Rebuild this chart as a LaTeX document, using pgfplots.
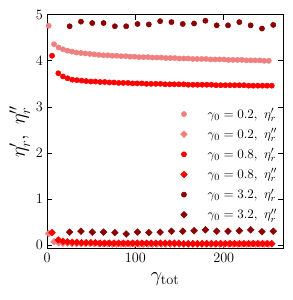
\documentclass[border=0pt]{standalone}
\usepackage{pgfplots}
\pgfplotsset{compat=1.18}
\definecolor{cpink}{RGB}{240,128,128}
\definecolor{cred}{RGB}{255,0,0}
\definecolor{cdark}{RGB}{139,0,0}
\begin{document}
\begin{tikzpicture}
\begin{axis}[
  width=198.3pt, height=196.6pt, scale only axis,
  xmin=0, xmax=267, ymin=-0.08, ymax=5,
  xtick={0,100,200}, ytick={0,1,2,3,4,5},
  tick align=inside, major tick length=4pt,
  tick style={black, line width=0.6pt},
  axis line style={line width=0.8pt},
  tick label style={font=\fontsize{11.5}{13}\selectfont},
  xlabel={$\gamma_{\mathrm{tot}}$}, ylabel={$\eta'_r,\ \eta''_r$},
  label style={font=\fontsize{18.5}{22}\selectfont},
  ylabel style={yshift=-2pt},
  xlabel style={yshift=-2pt},
  legend style={draw=none, fill=none, at={(0.55,0.622)}, anchor=north west, font=\fontsize{11}{13}\selectfont, row sep=3pt, column sep=15pt},
  legend cell align=left,
]
% gamma0 = 0.2, eta'
\addplot[only marks, mark=*, mark size=2.2pt, color=cpink] coordinates {
(1.9,4.76) (8.0,4.36) (13.1,4.29) (18.1,4.25) (23.2,4.22) (28.2,4.20) (33.3,4.18) (38.4,4.17) (43.4,4.16) (48.5,4.15)
(53.5,4.14) (58.6,4.13) (63.7,4.12) (68.7,4.12) (73.8,4.11) (78.8,4.11) (83.9,4.10) (89.0,4.10) (94.0,4.09) (99.1,4.09)
(104.1,4.08) (109.2,4.08) (114.3,4.08) (119.3,4.07) (124.4,4.07) (129.4,4.07) (134.5,4.06) (139.6,4.06) (144.6,4.06) (149.7,4.05)
(154.7,4.05) (159.8,4.05) (164.9,4.04) (169.9,4.04) (175.0,4.04) (180.0,4.04) (185.1,4.03) (190.2,4.03) (195.2,4.03) (200.3,4.03)
(205.3,4.02) (210.4,4.02) (215.5,4.02) (220.5,4.02) (225.6,4.01) (230.6,4.01) (235.7,4.01) (240.8,4.01) (245.8,4.00) (250.9,4.00)
};
\addlegendentry{$\gamma_0 = 0.2,\ \eta'_r$}
% gamma0 = 0.2, eta''
\addplot[only marks, mark=square*, mark options={rotate=45}, mark size=2pt, color=cpink] coordinates {
(1.9,0.25) (8.0,0.07) (13.1,0.05) (18.1,0.04) (23.2,0.04) (28.2,0.03) (33.3,0.03) (38.4,0.03) (43.4,0.03) (48.5,0.03)
(53.5,0.03) (58.6,0.03) (63.7,0.03) (68.7,0.03) (73.8,0.02) (78.8,0.02) (83.9,0.02) (89.0,0.02) (94.0,0.02) (99.1,0.02)
(104.1,0.02) (109.2,0.02) (114.3,0.02) (119.3,0.02) (124.4,0.02) (129.4,0.02) (134.5,0.02) (139.6,0.02) (144.6,0.02) (149.7,0.02)
(154.7,0.02) (159.8,0.02) (164.9,0.02) (169.9,0.02) (175.0,0.02) (180.0,0.02) (185.1,0.02) (190.2,0.02) (195.2,0.02) (200.3,0.02)
(205.3,0.02) (210.4,0.02) (215.5,0.02) (220.5,0.02) (225.6,0.02) (230.6,0.02) (235.7,0.02) (240.8,0.02) (245.8,0.02) (250.9,0.02)
};
\addlegendentry{$\gamma_0 = 0.2,\ \eta''_r$}
% gamma0 = 0.8, eta'
\addplot[only marks, mark=*, mark size=2.2pt, color=cred] coordinates {
(5.7,4.11) (12.8,3.73) (18.1,3.66) (23.3,3.62) (28.6,3.59) (33.8,3.58) (39.1,3.57) (44.3,3.56) (49.6,3.55) (54.8,3.55)
(60.1,3.54) (65.3,3.54) (70.6,3.53) (75.8,3.53) (81.1,3.52) (86.3,3.52) (91.6,3.52) (96.8,3.51) (102.1,3.51) (107.3,3.51)
(112.6,3.50) (117.8,3.50) (123.1,3.50) (128.3,3.50) (133.6,3.49) (138.8,3.49) (144.1,3.49) (149.3,3.49) (154.6,3.49) (159.8,3.48)
(165.1,3.48) (170.3,3.48) (175.6,3.48) (180.8,3.48) (186.1,3.48) (191.3,3.47) (196.6,3.47) (201.8,3.47) (207.1,3.47) (212.3,3.47)
(217.6,3.47) (222.8,3.47) (228.1,3.46) (233.3,3.46) (238.6,3.46) (243.8,3.46) (249.1,3.46) (254.3,3.46)
};
\addlegendentry{$\gamma_0 = 0.8,\ \eta'_r$}
% gamma0 = 0.8, eta''
\addplot[only marks, mark=square*, mark options={rotate=45}, mark size=2pt, color=cred] coordinates {
(5.7,0.27) (12.8,0.11) (18.1,0.08) (23.3,0.07) (28.6,0.06) (33.8,0.06) (39.1,0.05) (44.3,0.05) (49.6,0.05) (54.8,0.05)
(60.1,0.04) (65.3,0.04) (70.6,0.04) (75.8,0.04) (81.1,0.04) (86.3,0.04) (91.6,0.04) (96.8,0.04) (102.1,0.04) (107.3,0.04)
(112.6,0.04) (117.8,0.04) (123.1,0.04) (128.3,0.04) (133.6,0.04) (138.8,0.04) (144.1,0.04) (149.3,0.04) (154.6,0.03) (159.8,0.03)
(165.1,0.03) (170.3,0.03) (175.6,0.03) (180.8,0.03) (186.1,0.03) (191.3,0.03) (196.6,0.03) (201.8,0.03) (207.1,0.03) (212.3,0.03)
(217.6,0.03) (222.8,0.03) (228.1,0.03) (233.3,0.03) (238.6,0.03) (243.8,0.03) (249.1,0.03) (254.3,0.03)
};
\addlegendentry{$\gamma_0 = 0.8,\ \eta''_r$}
% gamma0 = 3.2, eta'
\addplot[only marks, mark=*, mark size=2.2pt, color=cdark] coordinates {
(25.6,4.75) (38.4,4.85) (51.2,4.82) (64.0,4.82) (76.8,4.75) (89.6,4.75) (102.4,4.80) (115.2,4.79) (128.0,4.86) (140.8,4.84)
(153.6,4.80) (166.4,4.81) (179.2,4.87) (192.0,4.77) (204.8,4.77) (217.6,4.84) (230.4,4.77) (243.2,4.70) (256.0,4.78)
};
\addlegendentry{$\gamma_0 = 3.2,\ \eta'_r$}
% gamma0 = 3.2, eta''
\addplot[only marks, mark=square*, mark options={rotate=45}, mark size=2pt, color=cdark] coordinates {
(25.6,0.28) (38.4,0.30) (51.2,0.28) (64.0,0.28) (76.8,0.27) (89.6,0.24) (102.4,0.28) (115.2,0.27) (128.0,0.28) (140.8,0.30)
(153.6,0.30) (166.4,0.31) (179.2,0.33) (192.0,0.30) (204.8,0.30) (217.6,0.31) (230.4,0.33) (243.2,0.29) (256.0,0.30)
};
\addlegendentry{$\gamma_0 = 3.2,\ \eta''_r$}
\end{axis}
\pgfresetboundingbox
\path[use as bounding box] ([shift={(-39.5pt,-43.1pt)}]current axis.south west) rectangle ([shift={(206.7pt,209pt)}]current axis.south west);
\end{tikzpicture}
\end{document}
